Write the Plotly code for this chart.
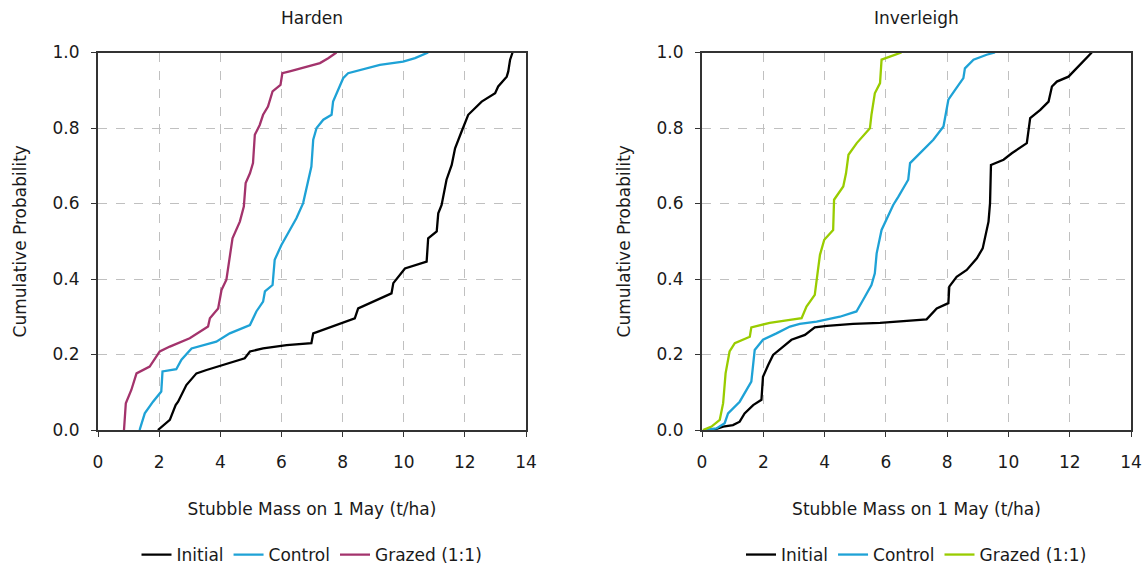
import plotly.graph_objects as go

# ---------------- Data ----------------
# Harden
harden_initial_x = [1.96, 2.35, 2.54, 2.62, 2.89, 3.22, 3.55, 4.09, 4.80, 4.97, 5.40, 6.17, 6.98, 7.04, 7.80, 8.40, 8.51, 9.11, 9.60, 9.66, 9.93, 10.04, 10.75, 10.80, 11.08, 11.13, 11.24, 11.40, 11.57, 11.68, 11.89, 12.06, 12.11, 12.55, 12.99, 13.09, 13.37, 13.42, 13.48, 13.56]
harden_initial_y = [0.0, 0.027, 0.066, 0.075, 0.119, 0.150, 0.159, 0.172, 0.190, 0.208, 0.216, 0.225, 0.230, 0.256, 0.278, 0.296, 0.322, 0.345, 0.362, 0.389, 0.415, 0.428, 0.446, 0.508, 0.526, 0.574, 0.596, 0.663, 0.702, 0.746, 0.790, 0.822, 0.835, 0.870, 0.892, 0.910, 0.936, 0.950, 0.981, 1.0]

harden_control_x = [1.36, 1.53, 1.80, 2.07, 2.11, 2.56, 2.73, 3.06, 3.87, 4.31, 4.97, 5.18, 5.40, 5.46, 5.71, 5.78, 6.00, 6.27, 6.49, 6.71, 6.87, 6.98, 7.04, 7.15, 7.37, 7.64, 7.69, 7.86, 8.02, 8.18, 8.57, 9.22, 9.98, 10.37, 10.80]
harden_control_y = [0.0, 0.044, 0.075, 0.102, 0.155, 0.161, 0.186, 0.216, 0.234, 0.256, 0.278, 0.314, 0.340, 0.367, 0.384, 0.451, 0.490, 0.530, 0.561, 0.601, 0.654, 0.698, 0.769, 0.800, 0.822, 0.835, 0.870, 0.901, 0.932, 0.945, 0.954, 0.967, 0.976, 0.985, 1.0]

harden_grazed_x = [0.85, 0.91, 1.09, 1.26, 1.69, 2.02, 2.35, 3.00, 3.60, 3.66, 3.93, 4.04, 4.20, 4.26, 4.40, 4.64, 4.77, 4.83, 4.97, 5.07, 5.13, 5.29, 5.40, 5.56, 5.71, 5.97, 6.03, 6.27, 6.82, 7.26, 7.53, 7.80]
harden_grazed_y = [0.0, 0.071, 0.106, 0.150, 0.168, 0.208, 0.221, 0.243, 0.274, 0.296, 0.322, 0.371, 0.398, 0.433, 0.508, 0.552, 0.592, 0.654, 0.680, 0.707, 0.782, 0.808, 0.835, 0.857, 0.897, 0.914, 0.945, 0.950, 0.963, 0.972, 0.985, 1.0]

# Inverleigh
inver_initial_x = [0.36, 0.69, 1.01, 1.23, 1.39, 1.67, 1.94, 1.99, 2.16, 2.32, 2.65, 2.92, 3.36, 3.68, 4.08, 4.93, 5.81, 6.68, 7.33, 7.66, 8.04, 8.07, 8.31, 8.64, 8.97, 9.16, 9.27, 9.35, 9.40, 9.43, 9.84, 10.11, 10.60, 10.65, 10.71, 11.04, 11.31, 11.42, 11.58, 11.96, 12.29, 12.56, 12.72]
inver_initial_y = [0.0, 0.009, 0.013, 0.022, 0.044, 0.066, 0.080, 0.141, 0.172, 0.199, 0.221, 0.239, 0.252, 0.272, 0.276, 0.281, 0.284, 0.290, 0.293, 0.322, 0.336, 0.380, 0.406, 0.424, 0.455, 0.481, 0.521, 0.552, 0.601, 0.702, 0.716, 0.733, 0.760, 0.791, 0.826, 0.848, 0.870, 0.910, 0.923, 0.936, 0.963, 0.985, 1.0]

inver_control_x = [0.09, 0.47, 0.74, 0.85, 1.23, 1.61, 1.72, 1.99, 2.43, 2.87, 3.19, 3.74, 4.50, 5.04, 5.26, 5.53, 5.64, 5.70, 5.86, 6.02, 6.24, 6.41, 6.73, 6.79, 7.11, 7.55, 7.88, 7.93, 8.04, 8.26, 8.53, 8.58, 8.86, 9.29, 9.56]
inver_control_y = [0.0, 0.004, 0.018, 0.044, 0.075, 0.128, 0.212, 0.239, 0.256, 0.274, 0.281, 0.287, 0.300, 0.314, 0.345, 0.384, 0.415, 0.468, 0.530, 0.557, 0.596, 0.618, 0.663, 0.707, 0.733, 0.769, 0.804, 0.830, 0.875, 0.901, 0.932, 0.958, 0.981, 0.994, 1.0]

inver_grazed_x = [0.03, 0.31, 0.58, 0.69, 0.77, 0.90, 1.07, 1.56, 1.61, 2.21, 2.87, 3.25, 3.41, 3.68, 3.77, 3.85, 3.99, 4.28, 4.31, 4.61, 4.70, 4.78, 5.05, 5.48, 5.53, 5.64, 5.81, 5.86, 6.13, 6.51]
inver_grazed_y = [0.0, 0.009, 0.027, 0.071, 0.150, 0.208, 0.230, 0.247, 0.272, 0.284, 0.292, 0.296, 0.327, 0.358, 0.415, 0.464, 0.504, 0.530, 0.610, 0.645, 0.680, 0.729, 0.760, 0.799, 0.835, 0.892, 0.919, 0.981, 0.989, 1.0]

x_ticks = [0, 2, 4, 6, 8, 10, 12, 14]
y_ticks = [0.0, 0.2, 0.4, 0.6, 0.8, 1.0]
y_tick_labels = ["0.0", "0.2", "0.4", "0.6", "0.8", "1.0"]

titles = ["Harden", "Inverleigh"]
x_title = "Stubble Mass on 1 May (t/ha)"
y_title = "Cumulative Probability"

BLACK = "#000000"
BLUE = "#1ea2d6"
PURPLE = "#a3336c"
GREEN = "#99cc00"

FONT = "DejaVu Sans, Verdana, sans-serif"
FS = 17
TXT = "#1a1a1a"

fig = go.Figure()

def add(x, y, name, color, xa, ya, legend):
    fig.add_trace(go.Scatter(x=x, y=y, name=name, mode="lines",
                             line=dict(color=color, width=2.3),
                             xaxis=xa, yaxis=ya, legend=legend))

add(harden_initial_x, harden_initial_y, "Initial", BLACK, "x", "y", "legend")
add(harden_control_x, harden_control_y, "Control", BLUE, "x", "y", "legend")
add(harden_grazed_x, harden_grazed_y, "Grazed (1:1)", PURPLE, "x", "y", "legend")
add(inver_initial_x, inver_initial_y, "Initial", BLACK, "x2", "y2", "legend2")
add(inver_control_x, inver_control_y, "Control", BLUE, "x2", "y2", "legend2")
add(inver_grazed_x, inver_grazed_y, "Grazed (1:1)", GREEN, "x2", "y2", "legend2")

W, H = 1142, 569

def px(v):
    return v / W

def py(v):
    return 1 - v / H

left_dom = [px(98), px(526)]
right_dom = [px(702), px(1131)]
y_dom = [py(430), py(52.5)]

xaxis_common = dict(range=[0, 14], tickvals=x_ticks, showline=True, linecolor="#333333",
                    linewidth=2, mirror=True, ticks="outside", ticklen=5, tickcolor="#333333",
                    showgrid=True, gridcolor="#c0c0c0", griddash="dash", gridwidth=1.3,
                    zeroline=False, automargin=False, ticklabelstandoff=11,
                    tickfont=dict(size=FS, color=TXT, family=FONT),
                    title=dict(text=x_title, font=dict(size=FS, color=TXT, family=FONT), standoff=32))
yaxis_common = dict(range=[0, 1], tickvals=y_ticks, ticktext=y_tick_labels, showline=True,
                    linecolor="#333333", linewidth=2, mirror=True, ticks="outside", ticklen=5,
                    tickcolor="#333333", showgrid=True, gridcolor="#c0c0c0", griddash="dash",
                    gridwidth=1.3, zeroline=False, automargin=False, ticklabelstandoff=8,
                    tickfont=dict(size=FS, color=TXT, family=FONT),
                    title=dict(text=y_title, font=dict(size=FS, color=TXT, family=FONT), standoff=22))

fig.update_layout(
    width=W, height=H,
    margin=dict(l=0, r=0, t=0, b=0, autoexpand=False),
    plot_bgcolor="white", paper_bgcolor="white",
    font=dict(family=FONT, size=FS, color=TXT),
    xaxis=dict(domain=left_dom, anchor="y", **xaxis_common),
    yaxis=dict(domain=y_dom, anchor="x", **yaxis_common),
    xaxis2=dict(domain=right_dom, anchor="y2", **xaxis_common),
    yaxis2=dict(domain=y_dom, anchor="x2", **yaxis_common),
    legend=dict(orientation="h", x=(left_dom[0] + left_dom[1]) / 2, xanchor="center",
                y=py(555), yanchor="middle", font=dict(size=FS, family=FONT, color=TXT),
                bgcolor="rgba(0,0,0,0)", itemwidth=30, tracegroupgap=0),
    legend2=dict(orientation="h", x=(right_dom[0] + right_dom[1]) / 2, xanchor="center",
                 y=py(555), yanchor="middle", font=dict(size=FS, family=FONT, color=TXT),
                 bgcolor="rgba(0,0,0,0)", itemwidth=30, tracegroupgap=0),
    annotations=[
        dict(text=titles[0], x=(left_dom[0] + left_dom[1]) / 2, y=py(18), xref="paper",
             yref="paper", xanchor="center", yanchor="middle", showarrow=False,
             font=dict(size=FS, family=FONT, color=TXT)),
        dict(text=titles[1], x=(right_dom[0] + right_dom[1]) / 2, y=py(18), xref="paper",
             yref="paper", xanchor="center", yanchor="middle", showarrow=False,
             font=dict(size=FS, family=FONT, color=TXT)),
    ],
)

# remove the page's default body margin so the figure fills the window exactly
fig.write_html("out.html", config={"displayModeBar": False},
               post_script="document.body.style.margin='0';document.body.style.overflow='hidden';")
